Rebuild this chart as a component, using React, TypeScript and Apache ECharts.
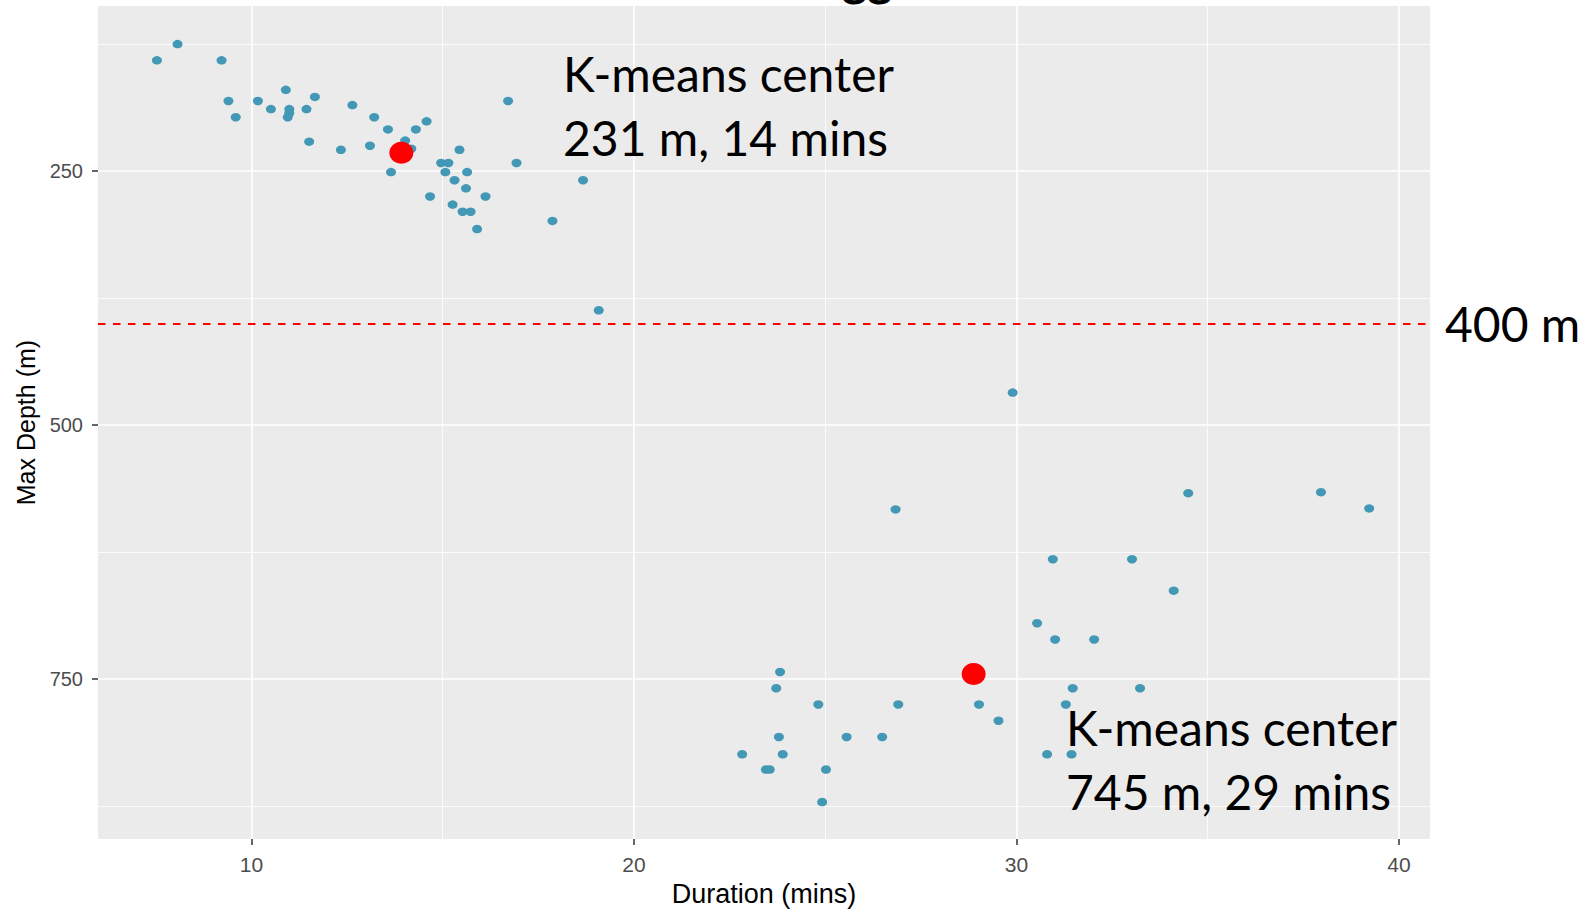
import { useEffect, useRef } from "react";
import * as echarts from "echarts";

// Dives: duration (mins) and max depth (m)
const diveDurations = [
  7.53, 8.07, 9.22, 9.4, 9.59, 10.17, 10.51, 10.9, 10.99, 10.99, 10.95, 11.44, 11.66, 11.51,
  12.34, 12.64, 13.1, 13.21, 13.57, 13.65, 14.02, 14.18, 14.3, 14.58, 14.67, 14.96, 15.15,
  15.07, 15.44, 15.31, 15.64, 15.61, 15.26, 15.52, 15.73, 15.9, 16.12, 16.71, 16.93, 17.87,
  18.67, 19.08,
  29.9, 26.84, 34.49, 37.96, 39.22, 30.95, 33.02, 34.11, 30.54, 31.01, 32.03, 23.82, 23.72,
  24.82, 26.91, 29.02, 29.53, 31.47, 33.23, 31.29, 23.79, 25.56, 26.49, 22.83, 23.89, 30.8,
  31.44, 23.45, 23.55, 25.02, 24.92,
];
const diveDepths = [
  141, 125, 141, 181, 197, 181, 189, 170, 189, 193, 197, 189, 177, 221,
  229, 185, 225, 197, 209, 251, 220, 228, 209, 201, 275, 242, 242,
  251, 229, 259, 251, 267, 283, 290, 290, 307, 275, 181, 242, 299,
  259, 387,
  468, 583, 567, 566, 582, 632, 632, 663, 695, 711, 711, 743, 759,
  775, 775, 775, 791, 759, 759, 775, 807, 807, 807, 824, 824, 824,
  824, 839, 839, 839, 871,
];

// K-means centers
const centerDurations = [13.92, 28.88];
const centerDepths = [232, 745];

// Axis ticks
const xMajorTicks = [10, 20, 30, 40];
const xMinorTicks = [15, 25, 35];
const yMajorTicks = [250, 500, 750];
const yMinorTicks = [125, 375, 625, 875];
const thresholdDepth = 400;

// Annotation texts
const topNoteLines = ["K-means center", "231 m, 14 mins"];
const bottomNoteLines = ["K-means center", "745 m, 29 mins"];
const thresholdLabel = "400 m";
const titleFragment = "gg";

const AXIS_FONT = "'Liberation Sans', Arial, sans-serif";
const NOTE_FONT = "Lato, 'Noto Sans', sans-serif";

export default function App() {
  const ref = useRef<HTMLDivElement>(null);

  useEffect(() => {
    if (!ref.current) return;
    const chart = echarts.init(ref.current, undefined, { renderer: "svg" });

    const dives = diveDurations.map((d, i) => [d, diveDepths[i]]);
    const centers = centerDurations.map((d, i) => [d, centerDepths[i]]);

    const gridLineData: any[] = [
      ...xMinorTicks.map((v) => ({ xAxis: v, lineStyle: { color: "#FFFFFF", width: 0.8, type: "solid" } })),
      ...yMinorTicks.map((v) => ({ yAxis: v, lineStyle: { color: "#FFFFFF", width: 0.8, type: "solid" } })),
      ...xMajorTicks.map((v) => ({ xAxis: v, lineStyle: { color: "#FFFFFF", width: 1.6, type: "solid" } })),
      ...yMajorTicks.map((v) => ({ yAxis: v, lineStyle: { color: "#FFFFFF", width: 1.6, type: "solid" } })),
      { yAxis: thresholdDepth, lineStyle: { color: "#FF0000", width: 2, type: [7.5, 7.5] } },
    ];

    const noteText = (text: string, x: number, y: number, weight = "normal") => ({
      type: "text",
      x,
      y,
      z: 100,
      style: {
        text,
        fill: "#000000",
        fontFamily: NOTE_FONT,
        fontSize: 48,
        fontWeight: weight,
        align: "left",
        verticalAlign: "middle",
      },
    });

    chart.setOption({
      animation: false,
      backgroundColor: "#FFFFFF",
      grid: {
        left: 98,
        right: 159,
        top: 6,
        bottom: 68,
        show: true,
        backgroundColor: "#EBEBEB",
        borderWidth: 0,
      },
      xAxis: {
        type: "value",
        min: 5.99,
        max: 40.81,
        name: "Duration (mins)",
        nameLocation: "middle",
        nameGap: 38,
        nameTextStyle: { fontFamily: AXIS_FONT, fontSize: 27, color: "#000000" },
        axisLine: { show: false },
        axisTick: {
          show: true,
          length: 6,
          customValues: xMajorTicks,
          lineStyle: { color: "#333333", width: 1.5 },
        },
        axisLabel: {
          customValues: xMajorTicks,
          margin: 15,
          fontFamily: AXIS_FONT,
          fontSize: 21,
          color: "#4D4D4D",
        },
        splitLine: { show: false },
      },
      yAxis: {
        type: "value",
        inverse: true,
        min: 87.5,
        max: 907.5,
        name: "Max Depth (m)",
        nameLocation: "middle",
        nameRotate: 90,
        nameGap: 57,
        nameTextStyle: { fontFamily: AXIS_FONT, fontSize: 25, color: "#000000" },
        axisLine: { show: false },
        axisTick: {
          show: true,
          length: 6,
          customValues: yMajorTicks,
          lineStyle: { color: "#333333", width: 1.5 },
        },
        axisLabel: {
          customValues: yMajorTicks,
          margin: 15,
          fontFamily: AXIS_FONT,
          fontSize: 20,
          color: "#4D4D4D",
        },
        splitLine: { show: false },
      },
      series: [
        {
          type: "scatter",
          name: "dives",
          z: 3,
          data: dives,
          symbol: "circle",
          symbolSize: [10, 8.5],
          itemStyle: { color: "#4298B5", opacity: 1 },
          emphasis: { disabled: true },
          silent: true,
          markLine: {
            silent: true,
            z: 1,
            symbol: ["none", "none"],
            label: { show: false },
            emphasis: { disabled: true },
            data: gridLineData,
          },
        },
        {
          type: "scatter",
          name: "centers",
          z: 4,
          data: centers,
          symbol: "circle",
          symbolSize: [24, 22],
          itemStyle: { color: "#FF0000", opacity: 1 },
          emphasis: { disabled: true },
          silent: true,
        },
      ],
      graphic: [
        noteText(topNoteLines[0], 563, 73.5),
        noteText(topNoteLines[1], 563, 137),
        noteText(bottomNoteLines[0], 1066, 727),
        noteText(bottomNoteLines[1], 1066, 791),
        noteText(thresholdLabel, 1445, 323.5),
        noteText(titleFragment, 842, -23, "bold"),
      ],
    });

    return () => chart.dispose();
  }, []);

  return (
    <div
      ref={ref}
      style={{ position: "absolute", left: 0, top: 0, width: 1589, height: 912 }}
    />
  );
}
